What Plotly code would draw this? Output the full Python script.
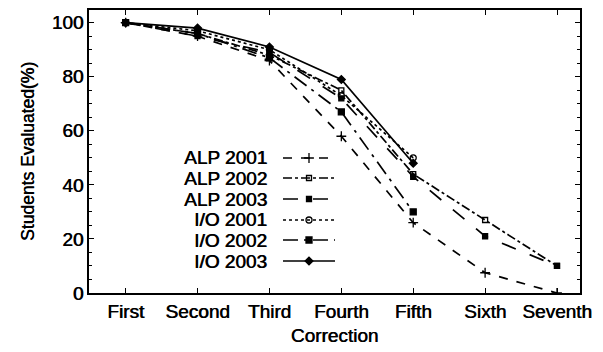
import plotly.graph_objects as go

categories = ["First", "Second", "Third", "Fourth", "Fifth", "Sixth", "Seventh"]
series_names = ["ALP 2001", "ALP 2002", "ALP 2003", "I/O 2001", "I/O 2002", "I/O 2003"]
alp_2001 = [100, 95, 86, 58, 26, 7.5, 0]
alp_2002 = [100, 96, 88, 75, 44, 27, 10]
alp_2003 = [100, 95, 89, 72, 43, 21, 10]
io_2001 = [100, 97, 90, 73, 50]
io_2002 = [100, 96, 87, 67, 30]
io_2003 = [100, 98, 91, 79, 48]
y_ticks = [0, 20, 40, 60, 80, 100]

values = [alp_2001, alp_2002, alp_2003, io_2001, io_2002, io_2003]
dashes = ["dash", "dashdot", "longdash", "dot", "longdashdot", "solid"]
symbols = ["cross-thin-open", "square-open", "square", "circle-open", "square", "diamond"]
msizes = [7, 5, 5, 6, 6, 6]

FONT = "Liberation Sans, Arial, sans-serif"
SH = "0.6px 0px 0px black"
fig = go.Figure()

for name, vals, d, s, ms in zip(series_names, values, dashes, symbols, msizes):
    fig.add_trace(go.Scatter(
        x=categories[:len(vals)], y=vals, mode="lines+markers", name=name,
        line=dict(color="black", width=1.7, dash=d),
        marker=dict(symbol=s, size=ms, color="black", line=dict(color="black", width=1.3)),
        showlegend=False,
    ))

# custom legend: text on left, line sample on right
W, H = 603, 352
L, R, T, B = 89, 23, 10, 59
pw, ph = W - L - R, H - T - B
rows_px = [158, 178, 199, 220, 240, 261]
text_right_px = 268
line_x_px = (283, 335)
for i, (name, d, s, ms) in enumerate(zip(series_names, dashes, symbols, msizes)):
    yp = (H - B - rows_px[i]) / ph
    fig.add_annotation(x=(text_right_px - L) / pw, y=yp, xref="paper", yref="paper",
                       text=name, showarrow=False, xanchor="right", yanchor="middle",
                       borderpad=0,
                       font=dict(size=19, color="black", family=FONT, shadow=SH))
    x0 = (line_x_px[0] - L) / pw
    x1 = (line_x_px[1] - L) / pw
    fig.add_trace(go.Scatter(
        x=[x0, x1], y=[yp, yp], xaxis="x2", yaxis="y2", mode="lines",
        line=dict(color="black", width=1.7, dash=d), showlegend=False, hoverinfo="skip"))
    fig.add_trace(go.Scatter(
        x=[(x0 + x1) / 2], y=[yp], xaxis="x2", yaxis="y2", mode="markers",
        marker=dict(symbol=s, size=ms, color="black", line=dict(color="black", width=1.3)),
        showlegend=False, hoverinfo="skip"))

fig.update_layout(
    width=W, height=H,
    margin=dict(l=L, r=R, t=T, b=B),
    paper_bgcolor="white", plot_bgcolor="white",
    font=dict(family=FONT, color="black", size=18),
    xaxis=dict(
        type="category", categoryorder="array", categoryarray=categories,
        range=[-0.51, 6.32], showgrid=False, zeroline=False, automargin=False,
        showline=True, linecolor="black", linewidth=1.6, mirror="allticks",
        ticks="inside", ticklen=5, tickcolor="black",
        tickfont=dict(size=19, family=FONT, shadow=SH),
        title=dict(text="Correction", font=dict(size=19, family=FONT, shadow=SH), standoff=8),
    ),
    yaxis=dict(
        range=[0, 104.7], tickvals=y_ticks, showgrid=False, zeroline=False, automargin=False,
        showline=True, linecolor="black", linewidth=1.6, mirror="allticks",
        ticks="inside", ticklen=5, tickcolor="black",
        tickfont=dict(size=19, family=FONT, shadow=SH),
        minor=dict(ticks="inside", ticklen=3, dtick=5, tickcolor="black"),
        title=dict(text="Students Evaluated(%)", font=dict(size=17.5, family=FONT, shadow=SH), standoff=13),
    ),
    xaxis2=dict(overlaying="x", range=[0, 1], visible=False, fixedrange=True),
    yaxis2=dict(overlaying="y", range=[0, 1], visible=False, fixedrange=True),
)

fig.write_html("out.html", config={"displayModeBar": False},
               post_script="document.body.style.margin='0';")
